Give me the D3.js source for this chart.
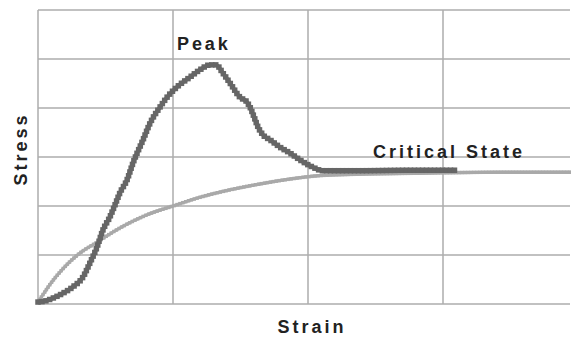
<!DOCTYPE html>
<html>
<head>
<meta charset="utf-8">
<script src="https://cdn.jsdelivr.net/npm/d3@7"></script>
<style>
  html, body { margin: 0; padding: 0; background: #fff; }
  svg { display: block; }
  text { font-family: "Liberation Sans", Arial, sans-serif; font-weight: bold; fill: #222; }
</style>
</head>
<body>
<svg id="chart"></svg>
<script>
const width = 571, height = 338;

// peak curve (dense sand)
const peakStrain = [0, 0.052, 0.111, 0.185, 0.259, 0.333, 0.385, 0.437, 0.481, 0.533, 0.570, 0.607, 0.659, 0.704, 0.778, 0.830, 0.904, 0.956, 1.030, 1.126, 1.200, 1.274, 1.319, 1.370, 1.422, 1.496, 1.548, 1.570, 1.600, 1.630, 1.667, 1.719, 1.793, 1.867, 1.941, 2.030, 2.111, 2.385, 2.756, 3.089];
const peakStress = [0.04, 0.06, 0.12, 0.22, 0.35, 0.55, 0.84, 1.16, 1.51, 1.78, 2.02, 2.27, 2.53, 2.88, 3.35, 3.69, 4.02, 4.22, 4.43, 4.63, 4.78, 4.88, 4.88, 4.71, 4.51, 4.22, 4.12, 4.02, 3.82, 3.61, 3.45, 3.35, 3.20, 3.08, 2.94, 2.80, 2.72, 2.72, 2.73, 2.73];

// loose curve, rising to critical state
const looseStrain = [0, 0.044, 0.089, 0.185, 0.311, 0.437, 0.556, 0.681, 0.807, 1.000, 1.178, 1.422, 1.644, 1.867, 2.089, 2.385, 2.830, 3.422, 3.948];
const looseStress = [0.04, 0.22, 0.40, 0.72, 1.04, 1.26, 1.47, 1.66, 1.82, 2.00, 2.16, 2.33, 2.45, 2.55, 2.62, 2.65, 2.67, 2.69, 2.69];

const xTicks = [0, 1, 2, 3];
const yTicks = [0, 1, 2, 3, 4, 5, 6];

const x = d3.scaleLinear().domain([0, 533 / 135]).range([38, 571]);
const y = d3.scaleLinear().domain([0, 6]).range([304, 10]);

const svg = d3.select("#chart").attr("width", width).attr("height", height);

// grid
const grid = svg.append("g").attr("stroke", "#acacac").attr("stroke-width", 1.5);
grid.selectAll(".h").data(yTicks).join("line")
    .attr("x1", x(0)).attr("x2", 570)
    .attr("y1", d => y(d)).attr("y2", d => y(d));
grid.selectAll(".v").data(xTicks).join("line")
    .attr("x1", d => x(d)).attr("x2", d => x(d))
    .attr("y1", y(6)).attr("y2", y(0));

const line = d3.line().x(d => x(d[0])).y(d => y(d[1])).curve(d3.curveMonotoneX);
const peak = peakStrain.map((s, i) => [s, peakStress[i]]);
const loose = looseStrain.map((s, i) => [s, looseStress[i]]);

function curve(data, color, w, size, step) {
    const path = svg.append("path")
        .datum(data)
        .attr("d", line)
        .attr("fill", "none")
        .attr("stroke", color)
        .attr("stroke-width", w);
    // small square markers along the path give the stepped look
    const node = path.node(), len = node.getTotalLength();
    const pts = d3.range(0, len, step).map(l => node.getPointAtLength(l));
    svg.append("g").selectAll("rect").data(pts).join("rect")
        .attr("x", p => p.x - size / 2).attr("y", p => p.y - size / 2)
        .attr("width", size).attr("height", size)
        .attr("fill", color);
}

curve(loose, "#a9a9a9", 3, 3.5, 3);
curve(peak, "#666", 4, 5.5, 4);

// labels
svg.append("text").attr("x", 177).attr("y", 50)
    .attr("font-size", 18).attr("letter-spacing", 2.9).text("Peak");
svg.append("text").attr("x", 373).attr("y", 158)
    .attr("font-size", 18).attr("letter-spacing", 3.0).text("Critical State");
svg.append("text").attr("x", 312).attr("y", 333).attr("text-anchor", "middle")
    .attr("font-size", 18).attr("letter-spacing", 3.0).text("Strain");
svg.append("text").attr("transform", "translate(27,149) rotate(-90)").attr("text-anchor", "middle")
    .attr("font-size", 18).attr("letter-spacing", 3.0).text("Stress");
</script>
</body>
</html>
